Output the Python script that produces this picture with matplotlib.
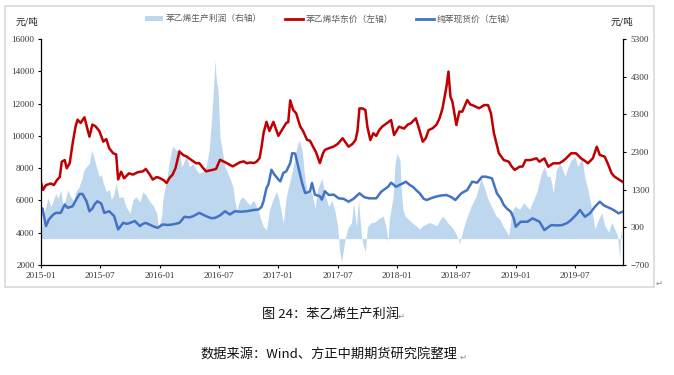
import matplotlib
matplotlib.use('Agg')
import matplotlib.pyplot as plt
from matplotlib.patches import Rectangle, Patch
from matplotlib.lines import Line2D

plt.rcParams['font.family'] = ['Noto Sans CJK SC', 'DejaVu Sans']

# ---------------- data (x in months since 2015-01) ----------------
x_tick_pos = [0, 6, 12, 18, 24, 30, 36, 42, 48, 54]
x_tick_labels = ['2015-01', '2015-07', '2016-01', '2016-07', '2017-01',
                 '2017-07', '2018-01', '2018-07', '2019-01', '2019-07']
left_ticks = [2000, 4000, 6000, 8000, 10000, 12000, 14000, 16000]
right_ticks = [-700, 300, 1300, 2300, 3300, 4300, 5300]

series_names = ['苯乙烯生产利润（右轴）', '苯乙烯华东价（左轴）', '纯苯现货价（左轴）']

styrene_m = [0.0, 0.2, 0.5, 1.0, 1.3, 1.6, 1.9, 2.1, 2.4, 2.6, 2.9, 3.2, 3.5, 3.7, 4.0, 4.4, 4.7, 4.9,
             5.2, 5.5, 5.9, 6.3, 6.6, 6.9, 7.3, 7.6, 7.8, 8.1, 8.4, 8.9, 9.3, 9.8, 10.3, 10.6, 11.0,
             11.3, 11.7, 12.0, 12.4, 12.7, 13.0, 13.3, 13.6, 14.0, 14.4, 14.7, 15.1, 15.4, 15.7, 16.0,
             16.4, 16.7, 17.0, 17.4, 17.7, 18.1, 18.5, 18.8, 19.1, 19.4, 19.8, 20.1, 20.5, 20.8, 21.2,
             21.5, 21.8, 22.1, 22.3, 22.5, 22.8, 23.1, 23.5, 24.0, 24.5, 24.8, 25.0, 25.2, 25.5, 25.8,
             26.2, 26.5, 26.9, 27.2, 27.5, 27.8, 28.2, 28.5, 28.7, 29.1, 29.6, 30.0, 30.5, 31.1, 31.5,
             31.8, 32.0, 32.2, 32.5, 32.8, 33.0, 33.3, 33.6, 33.9, 34.2, 34.5, 35.0, 35.4, 35.7, 36.2,
             36.7, 37.1, 37.4, 37.9, 38.2, 38.6, 38.9, 39.2, 39.6, 40.0, 40.3, 40.6, 41.0, 41.2, 41.4,
             41.6, 42.0, 42.3, 42.6, 43.1, 43.4, 43.6, 44.0, 44.3, 44.8, 45.2, 45.5, 45.8, 46.3, 46.8,
             47.3, 47.6, 47.9, 48.4, 48.7, 49.0, 49.5, 50.1, 50.4, 50.9, 51.3, 51.8, 52.4, 52.8, 53.1,
             53.6, 54.1, 54.6, 55.0, 55.3, 55.8, 56.2, 56.5, 57.0, 57.3, 57.7, 58.0, 58.5, 58.8]
styrene_v = [7100, 6650, 6950, 7050, 6950, 7250, 7450, 8400, 8500, 7990, 8300, 9540, 10600, 11000, 10800,
             11150, 10400, 9950, 10700, 10600, 10300, 9640, 9800, 9230, 8920, 8850, 7300, 7780, 7370,
             7680, 7600, 7750, 7800, 7950, 7600, 7290, 7450, 7390, 7250, 7080, 7400, 7590, 8000, 9030,
             8800, 8730, 8550, 8420, 8300, 8310, 8000, 7800, 7850, 7900, 7950, 8520, 8400, 8310, 8200,
             8110, 8250, 8360, 8420, 8300, 8350, 8310, 8400, 8620, 9300, 10160, 10870, 10300, 10870,
             10000, 10500, 10800, 10850, 12200, 11600, 11400, 10600, 10300, 9750, 9700, 9340, 9000,
             8310, 8900, 9130, 9230, 9340, 9500, 9850, 9330, 9500, 9740, 10300, 11700, 11700, 11600,
             10570, 9740, 10160, 10000, 10360, 10570, 10800, 10980, 10050, 10570, 10450, 10700, 10780,
             11090, 10500, 9640, 9850, 10360, 10470, 10700, 11090, 11700, 13050, 13980, 12430, 12120,
             10670, 11500, 11500, 12220, 11950, 11910, 11800, 11710, 11900, 11910, 11400, 10160, 8920,
             8500, 8400, 8100, 7890, 8090, 8100, 8500, 8500, 8610, 8400, 8600, 8090, 8300, 8300, 8450,
             8610, 8920, 8920, 8610, 8450, 8300, 8610, 9330, 8820, 8710, 8300, 7680, 7470, 7270, 7160]

benzene_m = [0.0, 0.15, 0.5, 0.8, 1.2, 1.5, 2.0, 2.4, 2.7, 3.2, 3.6, 3.9, 4.2, 4.6, 4.9, 5.2, 5.4, 5.7,
             6.1, 6.4, 6.9, 7.4, 7.8, 8.3, 8.7, 9.0, 9.5, 10.0, 10.3, 10.6, 11.0, 11.3, 11.8, 12.3,
             12.8, 13.3, 14.0, 14.5, 15.0, 15.4, 16.0, 16.7, 17.2, 17.6, 18.1, 18.6, 19.1, 19.6, 20.2,
             20.8, 21.4, 22.0, 22.3, 22.5, 22.8, 23.0, 23.3, 23.6, 24.0, 24.2, 24.5, 24.8, 25.2, 25.4,
             25.7, 26.0, 26.4, 26.7, 27.0, 27.2, 27.4, 27.7, 28.0, 28.2, 28.4, 28.7, 29.1, 29.6, 30.1,
             30.6, 31.1, 31.6, 32.2, 32.7, 33.2, 33.9, 34.4, 35.1, 35.4, 35.9, 36.4, 36.9, 37.3, 37.6,
             38.0, 38.3, 38.7, 39.0, 39.5, 39.9, 40.4, 41.0, 41.5, 41.9, 42.5, 43.1, 43.6, 44.1, 44.6,
             45.0, 45.6, 46.1, 46.5, 46.8, 47.1, 47.5, 47.8, 48.0, 48.5, 49.2, 49.7, 50.4, 50.9, 51.2,
             51.6, 52.2, 52.7, 53.2, 53.6, 54.1, 54.5, 55.0, 55.5, 56.0, 56.5, 56.9, 57.2, 57.6, 57.9,
             58.4, 58.8]
benzene_v = [5440, 5500, 4410, 4820, 5100, 5230, 5230, 5745, 5540, 5640, 6100, 6400, 6400, 5950, 5330,
             5500, 5745, 5950, 5800, 5230, 5330, 5025, 4200, 4610, 4550, 4610, 4720, 4410, 4550, 4610,
             4500, 4410, 4300, 4510, 4480, 4510, 4610, 4985, 4950, 5025, 5230, 5025, 4900, 4920, 5070,
             5330, 5130, 5330, 5300, 5330, 5400, 5440, 5600, 5950, 6770, 7000, 7900, 7600, 7300, 7180,
             7700, 7800, 8310, 8930, 8900, 8110, 7080, 6465, 6500, 6570, 7080, 6360, 6300, 6260, 6050,
             6570, 6336, 6360, 6130, 6100, 5920, 6100, 6440, 6200, 6130, 6130, 6540, 6850, 7100, 6850,
             7000, 7160, 6950, 6850, 6600, 6440, 6100, 6026, 6150, 6230, 6300, 6336, 6200, 6026, 6440,
             6645, 7160, 7100, 7470, 7470, 7370, 6440, 6100, 5716, 5500, 5300, 4900, 4372, 4680, 4680,
             4890, 4680, 4165, 4300, 4475, 4450, 4475, 4600, 4787, 5100, 5406, 4990, 5200, 5600, 5920,
             5700, 5610, 5500, 5406, 5200, 5300]

profit_m = [0.0, 0.1, 0.3, 0.7, 1.0, 1.2, 1.5, 1.7, 2.0, 2.2, 2.4, 2.7, 3.0, 3.3, 3.5, 3.8, 4.1, 4.3,
            4.6, 4.9, 5.1, 5.3, 5.6, 5.9, 6.1, 6.3, 6.6, 6.9, 7.1, 7.3, 7.6, 7.9, 8.1, 8.3, 8.6, 9.0,
            9.3, 9.6, 10.0, 10.3, 10.6, 11.0, 11.3, 11.7, 11.9, 12.0, 12.2, 12.3, 12.7, 13.0, 13.3,
            13.7, 14.0, 14.2, 14.4, 14.7, 15.0, 15.4, 15.7, 16.0, 16.4, 16.7, 17.0, 17.2, 17.4, 17.6,
            17.7, 17.9, 18.1, 18.2, 18.6, 18.9, 19.1, 19.4, 19.6, 19.8, 20.1, 20.4, 20.8, 21.1, 21.5,
            21.8, 22.0, 22.3, 22.5, 22.8, 23.1, 23.5, 23.8, 24.0, 24.2, 24.5, 24.8, 25.2, 25.5, 25.8,
            26.1, 26.4, 26.7, 27.0, 27.2, 27.4, 27.7, 28.0, 28.4, 28.7, 29.1, 29.4, 29.7, 30.0, 30.2,
            30.4, 30.7, 31.0, 31.4, 31.6, 31.9, 32.1, 32.4, 32.5, 32.8, 33.0, 33.4, 33.7, 34.1, 34.6,
            34.9, 35.1, 35.2, 35.6, 35.8, 36.0, 36.3, 36.4, 36.6, 36.8, 37.3, 37.9, 38.3, 38.6, 39.3,
            40.0, 40.6, 41.1, 41.7, 42.2, 42.3, 42.7, 43.0, 43.5, 44.0, 44.5, 44.9, 45.2, 45.7, 46.0,
            46.4, 46.7, 47.1, 47.3, 47.6, 47.9, 48.4, 48.8, 49.4, 50.1, 50.6, 50.9, 51.2, 51.5, 51.8,
            52.1, 52.5, 53.0, 53.3, 53.6, 54.0, 54.3, 54.7, 55.0, 55.3, 55.7, 56.0, 56.4, 56.7, 57.0,
            57.4, 57.7, 58.0, 58.3, 58.5, 58.6, 58.7]
profit_v = [0, 300, 670, 1070, 850, 980, 1200, 1070, 1290, 900, 980, 1290, 1114, 1000, 1247, 1350, 1556,
            1800, 1910, 1999, 2353, 2200, 1910, 1645, 1700, 1468, 1247, 1300, 1050, 1114, 1468, 1070,
            1114, 1100, 848, 670, 1026, 1114, 980, 1247, 1160, 980, 893, 670, 300, 406, 600, 1000, 1556,
            2087, 2442, 2353, 2397, 1900, 1999, 2220, 1910, 2000, 1822, 1733, 1780, 1910, 2353, 3017,
            3800, 4742, 4300, 3946, 2706, 2530, 1910, 1733, 1600, 1380, 1000, 760, 1026, 1114, 980, 893,
            1026, 850, 716, 450, 318, 229, 760, 1070, 1247, 1100, 850, 406, 1114, 1556, 1910, 2353, 2619,
            2353, 1556, 1160, 1300, 1200, 804, 1335, 1601, 1200, 848, 1026, 760, 318, -350, -610, -90,
            257, 430, 950, 300, 1040, 83, -90, -350, 300, 430, 430, 517, 604, 300, -90, 450, 1126, 1996,
            2257, 2083, 1387, 778, 604, 474, 343, 257, 343, 430, 343, 604, 430, 257, -4, -135, 257, 517,
            865, 1126, 1604, 1300, 1040, 778, 604, 517, 343, 170, 83, 691, 865, 778, 950, 778, 1213,
            1735, 1909, 1650, 1650, 1213, 1822, 1996, 1648, 1909, 2083, 2170, 1909, 2170, 1604, 1300,
            778, 257, 517, 691, 343, 170, 430, 257, 83, -526, 83, 257]

# ---------------- styling ----------------
C_RED = '#C00000'
C_BLUE = '#4472C4'
C_FILL = '#BDD7EE'
W, H = 674, 375

fig = plt.figure(figsize=(W / 100, H / 100), dpi=100)
fig.patch.set_facecolor('white')

# outer light-grey frame
fig.patches.append(Rectangle((5 / W, 1 - 287 / H), (654 - 5) / W, (287 - 6) / H,
                             transform=fig.transFigure, fill=False,
                             edgecolor='#D9D9D9', linewidth=1.2))

ax = fig.add_axes([41 / W, 1 - 265 / H, (623 - 41) / W, (265 - 39) / H])
ax2 = ax.twinx()

ax2.fill_between(profit_m, 0, profit_v, color=C_FILL, linewidth=0)
ax.plot(styrene_m, styrene_v, color=C_RED, linewidth=1.8)
ax.plot(benzene_m, benzene_v, color=C_BLUE, linewidth=1.8)

ax.set_zorder(ax2.get_zorder() + 1)
ax.patch.set_visible(False)

ax.set_xlim(0, 58.85)
ax.set_ylim(2000, 16000)
ax2.set_ylim(-700, 5300)
ax.set_yticks(left_ticks)
ax2.set_yticks(right_ticks)
ax.set_xticks(x_tick_pos)
ax.set_xticklabels(x_tick_labels)

tick_font = dict(family='Liberation Serif', size=6.6)
for lab in ax.get_yticklabels() + ax.get_xticklabels() + ax2.get_yticklabels():
    lab.set_fontfamily('Liberation Serif')
    lab.set_fontsize(6.6)
    lab.set_color('#333333')

ax.tick_params(axis='both', direction='out', length=2.2, width=0.8, color='black', pad=2.5)
ax2.tick_params(axis='y', direction='out', length=2.2, width=0.8, color='black', pad=3.5)

for a in (ax, ax2):
    a.spines['top'].set_visible(False)
    for s in ('left', 'right', 'bottom'):
        a.spines[s].set_linewidth(0.9)
        a.spines[s].set_color('black')
ax.spines['right'].set_visible(False)
ax2.spines['left'].set_visible(False)
ax2.spines['bottom'].set_visible(False)

# unit labels
fig.text(27 / W, 1 - 22 / H, '元/吨', ha='center', va='center', fontsize=6.8, color='#222222')
fig.text(622 / W, 1 - 22 / H, '元/吨', ha='center', va='center', fontsize=6.8, color='#222222')

# legend
handles = [Patch(facecolor=C_FILL, edgecolor='none'),
           Line2D([], [], color=C_RED, linewidth=2),
           Line2D([], [], color=C_BLUE, linewidth=2)]
fig.legend(handles, series_names, ncol=3, frameon=False, loc='center',
           bbox_to_anchor=(330 / W, 1 - 19 / H), fontsize=6.3, labelcolor='#595959',
           handlelength=2.1, handleheight=0.55, handletextpad=0.3, columnspacing=2.6)

# captions
fig.text(330 / W, 1 - 314 / H, '图 24：苯乙烯生产利润', ha='center', va='center',
         fontsize=9.5, color='#111111')
fig.text(401 / W, 1 - 316 / H, '↵', ha='center', va='center', fontsize=6,
         color='#888888', family=['DejaVu Sans'])
fig.text(329 / W, 1 - 355 / H, '数据来源：Wind、方正中期期货研究院整理', ha='center', va='center',
         fontsize=9.5, color='#111111')
fig.text(463 / W, 1 - 357 / H, '↵', ha='center', va='center', fontsize=6,
         color='#888888', family=['DejaVu Sans'])
fig.text(659 / W, 1 - 283 / H, '↵', ha='center', va='center', fontsize=6,
         color='#888888', family=['DejaVu Sans'])

fig.savefig('out.png', dpi=100, facecolor='white')
